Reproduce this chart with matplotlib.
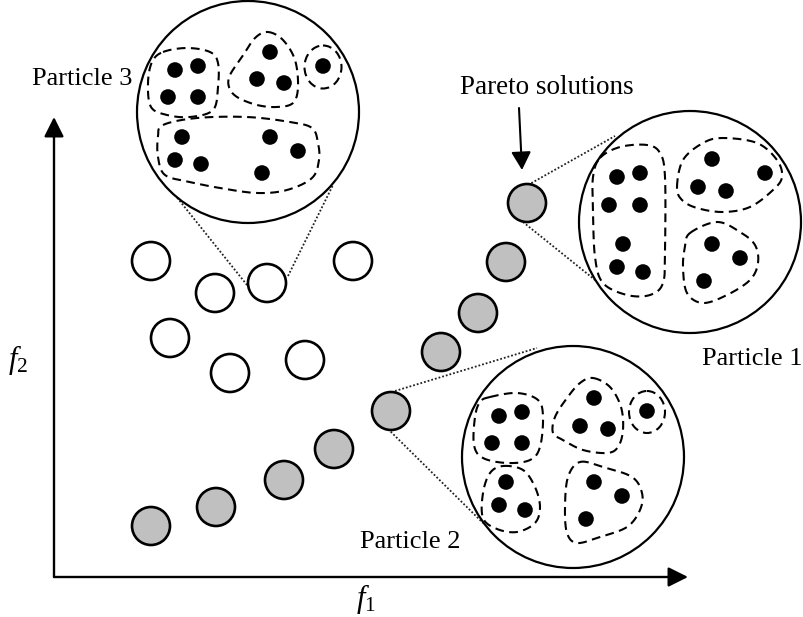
"""# Diagrama: particulas e solucoes de Pareto (coordenadas em pixels)"""
import matplotlib
matplotlib.use('Agg')
import matplotlib.pyplot as plt
from matplotlib.patches import Circle, Ellipse
import numpy as np

plt.rcParams['font.family'] = ['Liberation Serif', 'DejaVu Serif']
plt.rcParams['mathtext.fontset'] = 'custom'
plt.rcParams['mathtext.rm'] = 'Liberation Serif'
plt.rcParams['mathtext.it'] = 'Liberation Serif:italic'

"""#### Dados"""
# particulas dominadas (circulos brancos)
particulas_x = [151, 215, 267, 353, 170, 230, 305]
particulas_y = [261, 293, 283, 261, 338, 373, 360]
# solucoes de Pareto (circulos cinza)
pareto_x = [151, 216, 284, 334, 391, 441, 478, 506, 527]
pareto_y = [526, 507, 480, 449, 411, 352, 313, 262, 203]
raio_particula = 19

# circulos de zoom: nome, centro, posicao do rotulo
zoom_nomes = ['Particle 3', 'Particle 1', 'Particle 2']
zoom_cx = [248, 690, 573]
zoom_cy = [112, 222, 457]
raio_zoom = 111
rotulo_x = [32, 702, 360]
rotulo_y = [85, 365, 548]

# linhas pontilhadas ligando a particula ao zoom
pontilhado = [
    ((247, 285), (175, 195)), ((288, 276), (333, 185)),
    ((528, 185), (615, 136)), ((523, 222), (605, 288)),
    ((395, 391), (537, 348)), ((388, 429), (483, 523)),
]

# pontos pretos dentro dos zooms
pontos = [
    (175, 70), (198, 66), (168, 97), (198, 97), (270, 52), (257, 79), (284, 83),
    (323, 66), (182, 137), (175, 160), (201, 164), (270, 137), (298, 151), (262, 173),
    (617, 177), (640, 173), (609, 205), (640, 205), (623, 244), (617, 267), (643, 272),
    (712, 159), (698, 187), (726, 191), (765, 173), (712, 244), (740, 258), (704, 281),
    (499, 416), (522, 412), (492, 443), (522, 443), (594, 398), (580, 426), (608, 429),
    (647, 411), (506, 482), (499, 505), (525, 510), (594, 482), (622, 496), (586, 519),
]
raio_ponto = 7.8

# contornos tracejados dos grupos
grupos = [
    [(163, 52), (187, 48), (210, 52), (218, 63), (218, 87), (213, 110), (190, 117),
     (167, 115), (151, 107), (148, 83), (152, 62)],
    [(268, 32), (283, 40), (295, 60), (298, 87), (293, 103), (277, 107), (257, 105),
     (237, 97), (229, 87), (230, 75), (242, 57), (255, 38)],
    [(163, 125), (197, 118), (247, 117), (290, 122), (312, 128), (318, 143), (319, 160),
     (312, 178), (287, 190), (257, 193), (220, 188), (190, 182), (165, 175), (158, 157),
     (158, 137)],
    [(600, 158), (620, 147), (647, 145), (660, 153), (665, 177), (665, 250), (663, 283),
     (650, 295), (627, 295), (603, 283), (595, 257), (593, 210), (593, 177)],
    [(677, 187), (683, 160), (703, 143), (723, 138), (757, 143), (777, 160), (782, 177),
     (773, 190), (750, 207), (723, 212), (697, 208), (682, 200)],
    [(690, 233), (717, 222), (740, 232), (755, 245), (758, 263), (750, 280), (727, 295),
     (703, 303), (687, 293), (683, 267), (685, 247)],
    [(490, 397), (517, 393), (538, 400), (543, 417), (540, 447), (530, 460), (507, 463),
     (483, 458), (474, 445), (475, 417), (480, 402)],
    [(593, 378), (610, 387), (621, 407), (623, 430), (618, 447), (607, 453), (583, 450),
     (563, 440), (553, 433), (555, 417), (567, 398), (580, 383)],
    [(503, 466), (523, 470), (535, 487), (540, 507), (535, 523), (517, 532), (497, 529),
     (483, 518), (483, 493), (490, 473)],
    [(580, 462), (603, 467), (632, 477), (642, 493), (640, 510), (627, 527), (600, 537),
     (577, 543), (567, 533), (565, 507), (568, 477)],
]
# grupos de um ponto so (elipses): centro x, centro y, largura, altura
elipses = [(323, 67, 37, 43), (647, 412, 36, 42)]

# eixos
origem = (54, 577)
topo_y = 117
fim_x = 688


def contorno_suave(pts, n=24):
    # spline de Catmull-Rom fechada
    P = np.array(pts, float)
    N = len(P)
    t = np.linspace(0, 1, n, endpoint=False)[:, None]
    segs = []
    for i in range(N):
        p0, p1, p2, p3 = P[i - 1], P[i], P[(i + 1) % N], P[(i + 2) % N]
        segs.append(0.5 * (2 * p1 + (-p0 + p2) * t + (2 * p0 - 5 * p1 + 4 * p2 - p3) * t ** 2
                           + (-p0 + 3 * p1 - 3 * p2 + p3) * t ** 3))
    segs.append(P[:1])
    return np.vstack(segs)


fig = plt.figure(figsize=(8.04, 6.17), dpi=100)
ax = fig.add_axes([0, 0, 1, 1])
ax.set_xlim(0, 804)
ax.set_ylim(617, 0)
ax.axis('off')

"""# Eixos com setas"""
seta = dict(arrowstyle='-|>,head_length=0.6,head_width=0.3', mutation_scale=20,
            color='black', lw=1.7, shrinkA=0, shrinkB=0)
ax.annotate('', xy=(origem[0], topo_y), xytext=origem, arrowprops=seta)
ax.annotate('', xy=(fim_x, origem[1]), xytext=origem, arrowprops=seta)
ax.text(8, 368, r'$f_2$', fontsize=22, ha='left', va='baseline')
ax.text(356, 607, r'$f_1$', fontsize=22, ha='left', va='baseline')

"""# Linhas pontilhadas"""
for (a, b) in pontilhado:
    ax.plot([a[0], b[0]], [a[1], b[1]], linestyle=(0, (1, 1.1)), color='#222222', lw=1.3)

"""# Particulas"""
for x, y in zip(particulas_x, particulas_y):
    ax.add_patch(Circle((x, y), raio_particula, facecolor='white', edgecolor='black', lw=1.9, zorder=3))
for x, y in zip(pareto_x, pareto_y):
    ax.add_patch(Circle((x, y), raio_particula, facecolor='#c0c0c0', edgecolor='black', lw=1.9, zorder=3))

"""# Circulos de zoom"""
for nome, cx, cy, tx, ty in zip(zoom_nomes, zoom_cx, zoom_cy, rotulo_x, rotulo_y):
    ax.add_patch(Circle((cx, cy), raio_zoom, facecolor='white', edgecolor='black', lw=1.6, zorder=4))
    ax.text(tx, ty, nome, fontsize=19, ha='left', va='baseline')

for x, y in pontos:
    ax.add_patch(Circle((x, y), raio_ponto, facecolor='black', edgecolor='none', zorder=5))

for g in grupos:
    c = contorno_suave(g)
    ax.plot(c[:, 0], c[:, 1], color='black', lw=1.5, dashes=(4.2, 2.6), zorder=6)
for ex, ey, w, h in elipses:
    ax.add_patch(Ellipse((ex, ey), w, h, fill=False, edgecolor='black', lw=1.5,
                         linestyle=(0, (4.2, 2.6)), zorder=6))

"""# Seta das solucoes de Pareto"""
ax.text(460, 94, 'Pareto solutions', fontsize=19.5, ha='left', va='baseline')
ax.annotate('', xy=(522, 170), xytext=(519, 108),
            arrowprops=dict(arrowstyle='-|>,head_length=0.55,head_width=0.3', mutation_scale=20,
                            color='black', lw=1.5, shrinkA=0, shrinkB=0))

plt.savefig('out.png', dpi=100)
